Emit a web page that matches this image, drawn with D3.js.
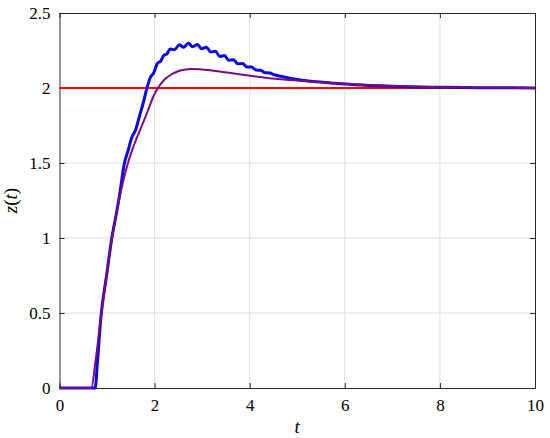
<!DOCTYPE html>
<html>
<head>
<meta charset="utf-8">
<script src="https://cdn.jsdelivr.net/npm/d3@7"></script>
</head>
<body style="margin:0">
<div id="chart"></div>
<script>
// ticks
var xTicks = [0, 2, 4, 6, 8, 10];
var yTicks = [0, 0.5, 1, 1.5, 2, 2.5];

// reference level
var refLevel = 2;

// blue response (wiggly)
var blueT = [0, 0.75, 0.80, 0.87, 0.99, 1.10, 1.20, 1.27, 1.36, 1.44, 1.52, 1.60, 1.68, 1.76, 1.84, 1.91,
             1.98, 2.06, 2.13, 2.20, 2.25, 2.33, 2.42, 2.52, 2.61, 2.71, 2.80, 2.90, 2.99, 3.09, 3.18,
             3.28, 3.37, 3.47, 3.56, 3.66, 3.75, 3.85, 3.94, 4.04, 4.13, 4.23, 4.32, 4.42, 4.52, 4.7,
             4.9, 5.1, 5.4, 5.7, 6.0, 6.5, 7.0, 7.5, 8.0, 8.5, 9.0, 9.5, 10];
var blueZ = [0, 0, 0.18, 0.47, 0.75, 1.0, 1.17, 1.30, 1.49, 1.58, 1.67, 1.72, 1.81, 1.90, 2.0, 2.07,
             2.10, 2.165, 2.18, 2.22, 2.225, 2.26, 2.255, 2.288, 2.272, 2.298, 2.275, 2.29, 2.262, 2.272, 2.24,
             2.245, 2.21, 2.216, 2.185, 2.188, 2.162, 2.163, 2.14, 2.14, 2.12, 2.118, 2.102, 2.10, 2.088, 2.075,
             2.062, 2.052, 2.042, 2.034, 2.026, 2.017, 2.011, 2.007, 2.005, 2.003, 2.002, 2.001, 2.0];

// purple response (smooth)
var purpleT = [0, 0.67, 0.75, 0.87, 0.99, 1.10, 1.25, 1.44, 1.58, 1.72, 1.86, 1.97, 2.07, 2.20, 2.35, 2.48,
               2.62, 2.78, 2.95, 3.24, 3.6, 4.01, 4.64, 5.2, 5.69, 6.2, 7.0, 8.0, 9.0, 10];
var purpleZ = [0, 0, 0.16, 0.47, 0.75, 0.99, 1.25, 1.50, 1.63, 1.74, 1.85, 1.94, 2.0, 2.053, 2.09, 2.11,
               2.122, 2.127, 2.125, 2.115, 2.10, 2.082, 2.058, 2.045, 2.035, 2.025, 2.014, 2.006, 2.002, 2.0];

var width = 550, height = 438;
var margin = {top: 13, right: 15, bottom: 50, left: 59.5};

var svg = d3.select("#chart")
  .append("svg")
  .attr("width", width)
  .attr("height", height)
  .attr("font-family", "Liberation Serif");

var x = d3.scaleLinear().domain([0, 10]).range([margin.left, width - margin.right]);
var y = d3.scaleLinear().domain([0, 2.5]).range([height - margin.bottom, margin.top]);

// grid
svg.append("g")
  .selectAll("line")
  .data(xTicks.slice(1, -1))
  .enter()
  .append("line")
  .attr("x1", function(d) { return x(d); })
  .attr("x2", function(d) { return x(d); })
  .attr("y1", y(0))
  .attr("y2", y(2.5))
  .attr("stroke", "#dedede")
  .attr("stroke-width", 1);

svg.append("g")
  .selectAll("line")
  .data(yTicks.slice(1, -1))
  .enter()
  .append("line")
  .attr("x1", x(0))
  .attr("x2", x(10))
  .attr("y1", function(d) { return y(d); })
  .attr("y2", function(d) { return y(d); })
  .attr("stroke", "#dedede")
  .attr("stroke-width", 1);

// axes, ticks pointing inward like matlab
var fmt = function(d) { return String(d); };

var xAxis = svg.append("g")
  .attr("transform", "translate(0," + y(0) + ")")
  .call(d3.axisBottom(x).tickValues(xTicks).tickFormat(fmt).tickSizeInner(-5).tickSizeOuter(0).tickPadding(11));
var yAxis = svg.append("g")
  .attr("transform", "translate(" + x(0) + ",0)")
  .call(d3.axisLeft(y).tickValues(yTicks).tickFormat(fmt).tickSizeInner(-5).tickSizeOuter(0).tickPadding(9));
var xTop = svg.append("g")
  .attr("transform", "translate(0," + y(2.5) + ")")
  .call(d3.axisTop(x).tickValues(xTicks).tickFormat("").tickSizeInner(-5).tickSizeOuter(0));
var yRight = svg.append("g")
  .attr("transform", "translate(" + x(10) + ",0)")
  .call(d3.axisRight(y).tickValues(yTicks).tickFormat("").tickSizeInner(-5).tickSizeOuter(0));

[xAxis, yAxis, xTop, yRight].forEach(function(g) {
  g.attr("font-family", null).attr("font-size", null);
  g.selectAll("path.domain").attr("stroke", "#262626");
  g.selectAll(".tick line").attr("stroke", "#262626");
  g.selectAll(".tick text")
    .attr("font-family", "Liberation Serif")
    .attr("font-size", 17)
    .attr("fill", "#000");
});

// lines
var line = d3.line()
  .x(function(d) { return x(d[0]); })
  .y(function(d) { return y(d[1]); })
  .curve(d3.curveMonotoneX);

svg.append("line")
  .attr("x1", x(0)).attr("x2", x(10))
  .attr("y1", y(refLevel)).attr("y2", y(refLevel))
  .attr("stroke", "#ff0000")
  .attr("stroke-width", 2.2);

var bluePts = blueT.map(function(t, i) { return [t, blueZ[i]]; });
var purplePts = purpleT.map(function(t, i) { return [t, purpleZ[i]]; });

svg.append("path")
  .datum(bluePts)
  .attr("d", line)
  .attr("fill", "none")
  .attr("stroke", "#0a0ae0")
  .attr("stroke-width", 3)
  .attr("stroke-linejoin", "round");

svg.append("path")
  .datum(purplePts)
  .attr("d", line)
  .attr("fill", "none")
  .attr("stroke", "#7a0a80")
  .attr("stroke-width", 2);

// labels
svg.append("text")
  .attr("x", (x(0) + x(10)) / 2)
  .attr("y", 433)
  .attr("text-anchor", "middle")
  .attr("font-family", "Liberation Serif")
  .attr("font-size", 19)
  .attr("font-style", "italic")
  .text("t");

var yl = svg.append("text")
  .attr("transform", "translate(17," + y(1.25) + ") rotate(-90)")
  .attr("text-anchor", "middle")
  .attr("font-family", "Liberation Serif")
  .attr("font-size", 19);
yl.append("tspan").attr("font-style", "italic").text("z");
yl.append("tspan").text("(");
yl.append("tspan").attr("font-style", "italic").text("t");
yl.append("tspan").text(")");
</script>
</body>
</html>
